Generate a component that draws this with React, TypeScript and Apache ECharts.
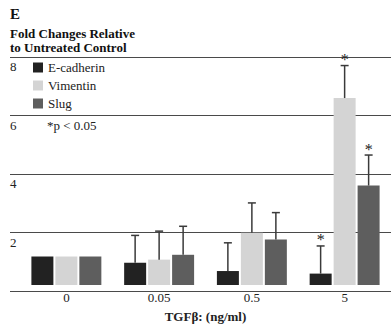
import React, { useEffect, useRef } from "react";
import * as echarts from "echarts";

const categories = ["0", "0.05", "0.5", "5"];
const seriesNames = ["E-cadherin", "Vimentin", "Slug"];
const ecadherin = [1.0, 0.78, 0.49, 0.4];
const vimentin = [1.0, 0.89, 1.83, 6.56];
const slug = [1.0, 1.06, 1.6, 3.49];
const ecadherinErr = [0, 0.96, 0.99, 0.97];
const vimentinErr = [0, 1.0, 1.05, 1.14];
const slugErr = [0, 1.0, 0.94, 1.07];
const ecadherinSig = [false, false, false, true];
const vimentinSig = [false, false, false, true];
const slugSig = [false, false, false, true];
const yTicks = [0, 2, 4, 6, 8];

const FONT = "Liberation Serif, Times New Roman, serif";
const COLORS = ["#222222", "#d4d4d4", "#5e5e5e"];
const BAR_W = 22;
const BAR_STEP = 24;

export default function App() {
  const ref = useRef<HTMLDivElement>(null);
  useEffect(() => {
    if (!ref.current) return;
    const chart = echarts.init(ref.current, null, { renderer: "svg" });
    const values = [ecadherin, vimentin, slug];
    const errs = [ecadherinErr, vimentinErr, slugErr];
    const sigs = [ecadherinSig, vimentinSig, slugSig];

    const barSeries = values.map((v, i) => ({
      type: "bar",
      name: seriesNames[i],
      xAxisIndex: 1,
      yAxisIndex: 1,
      data: v,
      barWidth: BAR_W,
      barGap: "9%",
      itemStyle: { color: COLORS[i] },
      z: 3,
    }));

    const errSeries = values.map((v, i) => ({
      type: "custom",
      name: "err" + i,
      xAxisIndex: 1,
      yAxisIndex: 1,
      z: 4,
      data: v.map((val, k) => [k, val, val + errs[i][k], sigs[i][k] ? 1 : 0]),
      renderItem: (params: any, api: any) => {
        const k = api.value(0);
        const lo = api.coord([k, api.value(1)]);
        const hi = api.coord([k, api.value(2)]);
        const x = lo[0] + (i - 1) * BAR_STEP;
        const children: any[] = [];
        if (api.value(2) > api.value(1)) {
          children.push({
            type: "line",
            shape: { x1: x, y1: lo[1], x2: x, y2: hi[1] },
            style: { stroke: "#3a3a3a", lineWidth: 1.5 },
          });
          children.push({
            type: "line",
            shape: { x1: x - 4, y1: hi[1], x2: x + 4, y2: hi[1] },
            style: { stroke: "#3a3a3a", lineWidth: 1.5 },
          });
        }
        if (api.value(3) === 1) {
          children.push({
            type: "text",
            x: x,
            y: hi[1] - 6,
            style: {
              text: "*",
              fontFamily: FONT,
              fontSize: 16,
              fill: "#222222",
              align: "center",
              verticalAlign: "middle",
            },
          });
        }
        return { type: "group", children };
      },
    }));

    chart.setOption({
      animation: false,
      backgroundColor: "#ffffff",
      textStyle: { fontFamily: FONT },
      grid: [
        { left: 10, right: 0, top: 57, height: 234 },
        { left: 20, width: 373, top: 57, height: 234 },
      ],
      xAxis: [
        { gridIndex: 0, type: "value", show: false, min: 0, max: 1 },
        {
          gridIndex: 1,
          type: "category",
          data: categories,
          axisLine: { show: false },
          axisTick: { show: false },
          axisLabel: { fontFamily: FONT, fontSize: 13, color: "#222", margin: 6 },
          name: "TGF\u03b2: (ng/ml)",
          nameLocation: "middle",
          nameGap: 25,
          nameTextStyle: { fontFamily: FONT, fontSize: 13, fontWeight: "bold", color: "#222" },
        },
      ],
      yAxis: [
        {
          gridIndex: 0,
          type: "value",
          min: yTicks[0],
          max: yTicks[yTicks.length - 1],
          interval: 2,
          axisLine: { show: false },
          axisTick: { show: false },
          splitLine: { show: true, lineStyle: { color: "#4a4a4a", width: 1 } },
          axisLabel: {
            inside: true,
            showMinLabel: false,
            margin: 0,
            fontFamily: FONT,
            fontSize: 13,
            color: "#222",
            verticalAlign: "top",
            padding: [3, 0, 0, 0],
          },
        },
        { gridIndex: 1, type: "value", min: 0, max: 8, show: false },
      ],
      legend: {
        data: seriesNames,
        orient: "vertical",
        left: 33,
        top: 61,
        padding: 0,
        icon: "rect",
        itemWidth: 10,
        itemHeight: 10,
        itemGap: 5,
        textStyle: { fontFamily: FONT, fontSize: 13, color: "#222" },
        selectedMode: false,
      },
      graphic: [
        {
          type: "text",
          left: 10,
          top: 6,
          style: { text: "E", fontFamily: FONT, fontSize: 15, fontWeight: "bold", fill: "#111" },
        },
        {
          type: "text",
          left: 10,
          top: 26,
          style: {
            text: "Fold Changes Relative\nto Untreated Control",
            fontFamily: FONT,
            fontSize: 13,
            fontWeight: "bold",
            lineHeight: 14,
            fill: "#111",
          },
        },
        {
          type: "text",
          left: 47,
          top: 119,
          style: { text: "*p < 0.05", fontFamily: FONT, fontSize: 13, fill: "#222" },
        },
      ],
      series: [...barSeries, ...errSeries],
    });
    return () => chart.dispose();
  }, []);
  return (
    <div
      ref={ref}
      style={{ position: "fixed", left: 0, top: 0, width: 391, height: 328, background: "#fff" }}
    />
  );
}
